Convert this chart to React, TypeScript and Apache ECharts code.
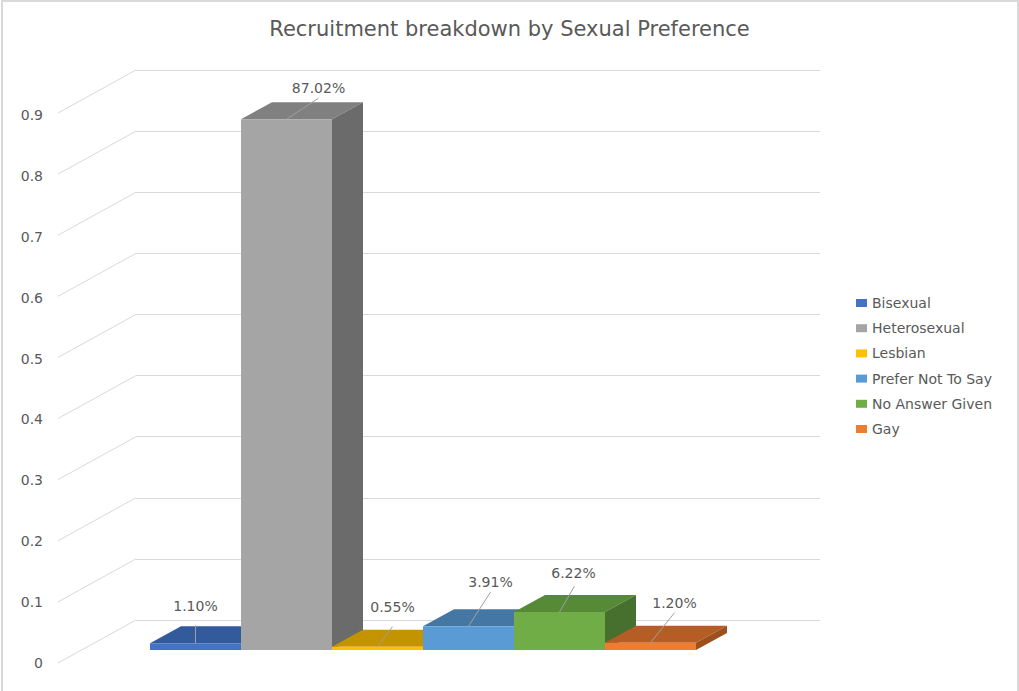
import React, { useEffect, useRef } from "react";
import * as echarts from "echarts";

const chartTitle = "Recruitment breakdown by Sexual Preference";
const categories = ["Bisexual", "Heterosexual", "Lesbian", "Prefer Not To Say", "No Answer Given", "Gay"];
const values = [0.011, 0.8702, 0.0055, 0.0391, 0.0622, 0.012];
const valueLabels = ["1.10%", "87.02%", "0.55%", "3.91%", "6.22%", "1.20%"];
const yTicks = [0, 0.1, 0.2, 0.3, 0.4, 0.5, 0.6, 0.7, 0.8, 0.9];

const frontColors = ["#4472C4", "#A5A5A5", "#FFC000", "#5B9BD5", "#70AD47", "#ED7D31"];
const topColors = ["#335A9A", "#808080", "#C49400", "#4577A4", "#568A37", "#B55D25"];
const sideColors = ["#2C4F8C", "#6B6B6B", "#A67C00", "#3A6690", "#476F2E", "#9B501D"];

// leader line end and label centre, relative to the centre of each bar's front-top edge
const leaderEnds = [[0, -18], [32, -21], [15, -20], [22, -34], [15, -26], [24, -30]];
const labelCenters = [[0, -37], [32, -31], [15, -40], [22, -44], [14, -39], [24, -40]];

const DX = 31;
const DY = -17;
const FONT = "DejaVu Sans";
const TEXT = "#595959";
const GRID = "#d9d9d9";

export default function App() {
  const ref = useRef<HTMLDivElement>(null);
  useEffect(() => {
    if (!ref.current) return;
    const chart = echarts.init(ref.current, undefined, { renderer: "svg" });

    const barSeries = categories.map((name, i) => ({
      type: "custom",
      name,
      xAxisIndex: 2,
      yAxisIndex: 2,
      itemStyle: { color: frontColors[i] },
      data: [[i, values[i]]],
      renderItem: (params: any, api: any) => {
        const x = api.value(0);
        const v = api.value(1);
        const p0 = api.coord([x, 0]);
        const p1 = api.coord([x + 1, v]);
        const left = p0[0], right = p1[0], bottom = p0[1], top = p1[1];
        return {
          type: "group",
          children: [
            {
              type: "polygon",
              shape: { points: [[left, top], [right, top], [right + DX, top + DY], [left + DX, top + DY]] },
              style: { fill: topColors[i] },
            },
            {
              type: "polygon",
              shape: { points: [[right, top], [right + DX, top + DY], [right + DX, bottom + DY], [right, bottom]] },
              style: { fill: sideColors[i] },
            },
            {
              type: "rect",
              shape: { x: left, y: top, width: right - left, height: bottom - top },
              style: { fill: frontColors[i] },
            },
          ],
        };
      },
    }));

    const option: any = {
      animation: false,
      backgroundColor: "#ffffff",
      title: {
        text: chartTitle,
        left: "center",
        top: 13,
        textStyle: { fontFamily: FONT, fontSize: 21, fontWeight: "normal", color: TEXT },
      },
      legend: {
        orient: "vertical",
        left: 851,
        top: 290,
        itemWidth: 11,
        itemHeight: 8,
        itemGap: 9.2,
        icon: "rect",
        data: categories,
        selectedMode: false,
        textStyle: { fontFamily: FONT, fontSize: 14, color: TEXT, lineHeight: 16 },
      },
      graphic: [
        {
          type: "rect",
          shape: { x: 2, y: 1, width: 1016, height: 720 },
          style: { fill: "none", stroke: GRID, lineWidth: 2 },
          silent: true,
        },
      ],
      grid: [
        { left: 136, right: 199, top: 70, bottom: 71 },
        { left: 58, right: 883, top: 115, bottom: 28 },
        { left: 150, right: 323, top: 101, bottom: 41 },
      ],
      xAxis: [
        { type: "value", gridIndex: 0, min: 0, max: 1, show: false },
        { type: "value", gridIndex: 1, min: 0, max: 1, show: false },
        { type: "value", gridIndex: 2, min: 0, max: 6, show: false },
      ],
      yAxis: [
        {
          type: "value", gridIndex: 0, min: 0, max: 0.9, interval: 0.1,
          axisLine: { show: false }, axisTick: { show: false }, axisLabel: { show: false },
          splitLine: { show: true, lineStyle: { color: GRID, width: 1 } },
        },
        {
          type: "value", gridIndex: 1, min: 0, max: 0.9, interval: 0.1,
          axisLine: { show: false }, axisTick: { show: false }, splitLine: { show: false },
          axisLabel: {
            show: true, margin: 15, color: TEXT, fontFamily: FONT, fontSize: 14,
            formatter: (v: number) => String(Math.round(v * 10) / 10),
          },
        },
        { type: "value", gridIndex: 2, min: 0, max: 0.9, show: false },
      ],
      series: [
        {
          type: "custom",
          name: "floorLines",
          xAxisIndex: 0,
          yAxisIndex: 0,
          silent: true,
          data: yTicks.map((t) => [0, t]),
          renderItem: (params: any, api: any) => {
            const p = api.coord([0, api.value(1)]);
            return {
              type: "line",
              shape: { x1: p[0] - 78, y1: p[1] + 43, x2: p[0], y2: p[1] },
              style: { stroke: GRID, lineWidth: 1 },
            };
          },
        },
        ...barSeries,
        {
          type: "custom",
          name: "valueLabels",
          xAxisIndex: 2,
          yAxisIndex: 2,
          silent: true,
          z: 10,
          data: values.map((v, i) => [i, v]),
          renderItem: (params: any, api: any) => {
            const i = params.dataIndex;
            const p = api.coord([api.value(0) + 0.5, api.value(1)]);
            const e = leaderEnds[i];
            const c = labelCenters[i];
            return {
              type: "group",
              children: [
                {
                  type: "line",
                  shape: { x1: p[0], y1: p[1], x2: p[0] + e[0], y2: p[1] + e[1] },
                  style: { stroke: "#A0A0A0", lineWidth: 1 },
                },
                {
                  type: "text",
                  x: p[0] + c[0],
                  y: p[1] + c[1],
                  style: {
                    text: valueLabels[i],
                    fill: TEXT,
                    fontFamily: FONT,
                    fontSize: 14,
                    align: "center",
                    verticalAlign: "middle",
                  },
                },
              ],
            };
          },
        },
      ],
    };

    chart.setOption(option);
    return () => chart.dispose();
  }, []);

  return (
    <div
      ref={ref}
      style={{ position: "fixed", left: 0, top: 0, width: 1019, height: 691, background: "#fff" }}
    />
  );
}
